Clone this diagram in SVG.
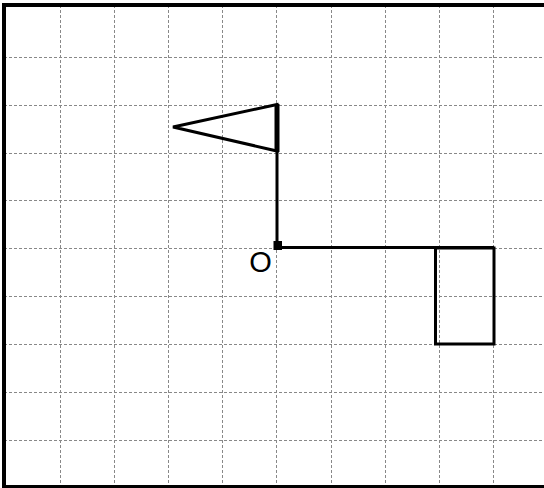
<svg xmlns="http://www.w3.org/2000/svg" width="544" height="488" viewBox="0 0 544 488">
<style>
.grid{stroke:#888;stroke-width:1;stroke-dasharray:3,2;fill:none}
.ln{stroke:#000;stroke-width:3;fill:none}
.lbl{font-family:"Liberation Sans",Arial,sans-serif;font-size:29px;fill:#000}
</style>
<rect x="0" y="0" width="544" height="488" fill="#fff"/>
<g id="grid">
<path class="grid" d="M60.5 5V488M114.5 5V488M168.5 5V488M222.5 5V488M276.5 5V488M331.5 5V488M385.5 5V488M439.5 5V488M493.5 5V488"/>
<path class="grid" d="M4 57.5H544M4 105.5H544M4 153.5H544M4 200.5H544M4 248.5H544M4 296.5H544M4 344.5H544M4 392.5H544M4 440.5H544"/>
</g>
<rect id="border" x="4" y="5" width="545" height="482" fill="none" stroke="#000" stroke-width="4"/>
<g id="connectors">
<line class="ln" x1="277" y1="104" x2="277" y2="246"/>
<line class="ln" x1="277" y1="247.5" x2="494" y2="247.5"/>
</g>
<g id="flag">
<polygon class="ln" points="277,104.5 173,127 277,151" stroke-linejoin="miter"/>
<line x1="277" y1="104" x2="277" y2="152" stroke="#000" stroke-width="5"/>
</g>
<g id="origin">
<rect x="273.5" y="241" width="8.5" height="9" fill="#000"/>
<text class="lbl" x="260.5" y="272" text-anchor="middle">O</text>
</g>
<g id="box">
<rect class="ln" x="435.5" y="248" width="58.5" height="96"/>
</g>
</svg>
